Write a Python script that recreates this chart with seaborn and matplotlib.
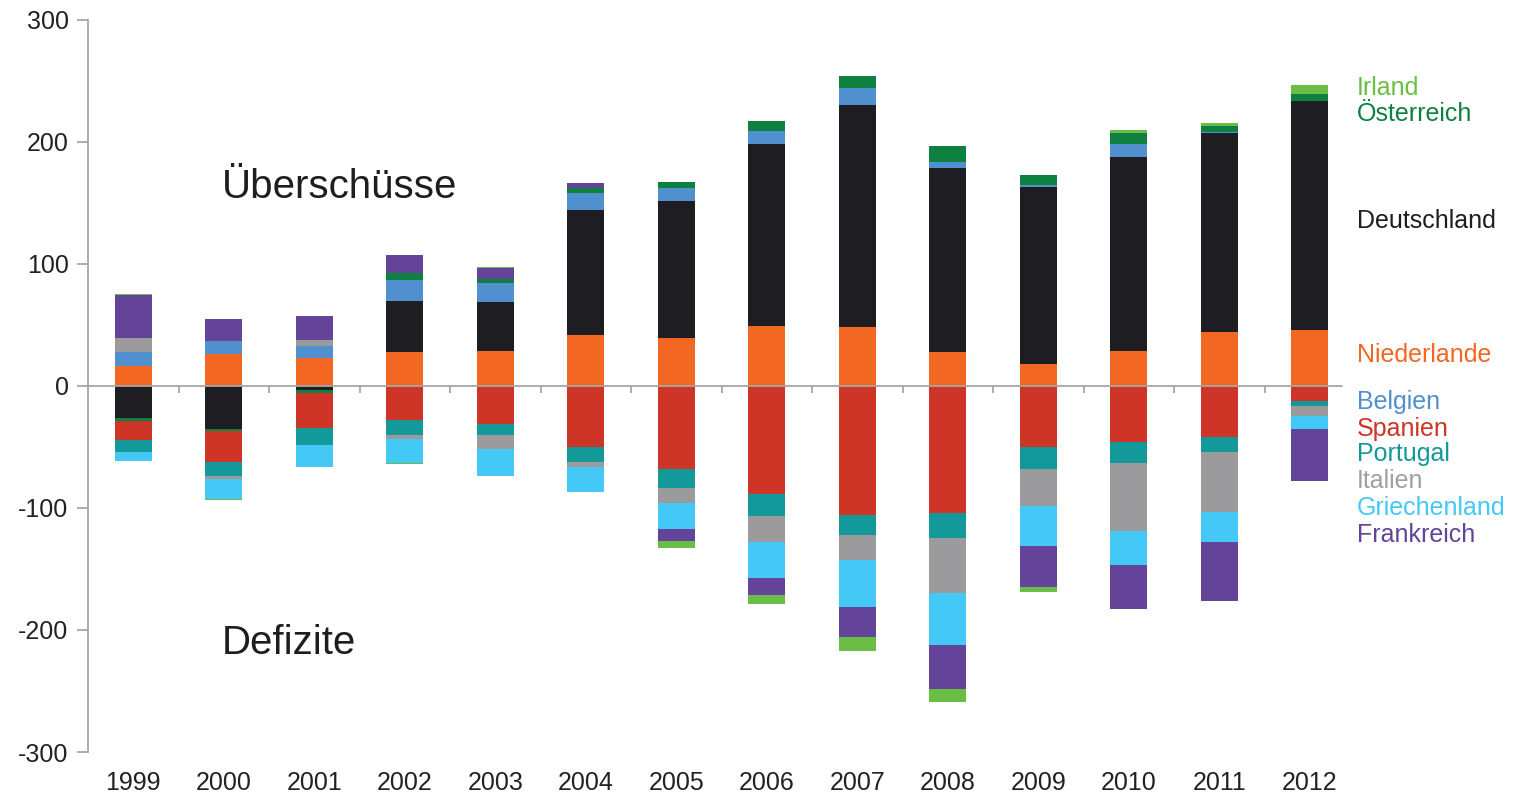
import numpy as np
import pandas as pd
import seaborn as sns
import matplotlib.pyplot as plt

# Leistungsbilanzsalden im Euroraum, Mrd. Euro
years = [str(y) for y in range(1999, 2013)]

niederlande = [16, 26.5, 23, 28, 29, 42, 39, 49, 48, 28, 18, 29, 44, 46]
deutschland = [-26, -35.5, -3.5, 42, 40, 102.5, 112.5, 149.5, 182, 150.5, 145, 159, 163, 187.5]
belgien = [12, 10.5, 10, 16.5, 15.5, 13.5, 10.5, 10.5, 14, 5, 2, 10, 1.5, 0]
oesterreich = [-2.5, -1.5, -2, 6, 3.5, 4.5, 5, 8, 10, 13, 8, 9.5, 4.5, 6]
spanien = [-16, -25, -29, -27.5, -31.5, -50, -68, -88.5, -105.5, -104, -50, -45.5, -42, -12.5]
portugal = [-10, -12, -14, -12.5, -9, -12, -15.5, -18, -17, -20.5, -18, -17.5, -12, -4]
italien = [11.5, -2, 4.5, -3.5, -11, -4.5, -12.5, -21.5, -20, -45.5, -30, -55.5, -49, -8]
griechenland = [-7, -17, -17.5, -20, -22, -20, -21, -29.5, -39, -42.5, -33.5, -28, -24.5, -10.5]
frankreich = [35, 18, 19.5, 15, 8.5, 4, -10, -14, -24.5, -36, -33, -36.5, -49, -43]
irland = [0.5, -0.5, -0.5, -0.5, 1, 0, -5.5, -7.5, -11.5, -10.5, -4, 2.5, 2.5, 7]

countries = ['Niederlande', 'Deutschland', 'Belgien', 'Österreich', 'Spanien',
             'Portugal', 'Italien', 'Griechenland', 'Frankreich', 'Irland']
series = [niederlande, deutschland, belgien, oesterreich, spanien,
          portugal, italien, griechenland, frankreich, irland]
colors = ['#F26722', '#1E1E22', '#5090CE', '#0E8040', '#CE3527',
          '#14999A', '#9B9B9E', '#44C8F5', '#634499', '#6BBE45']

# Beschriftung rechts: Reihenfolge wie im Original, y-Position in Datenkoordinaten
label_names = ['Irland', 'Österreich', 'Deutschland', 'Niederlande', 'Belgien',
               'Spanien', 'Portugal', 'Italien', 'Griechenland', 'Frankreich']
label_y = [244, 223, 135, 25, -13, -35, -56, -78, -100, -122]
label_colors = ['#6BBE45', '#0E8040', '#1E1E22', '#F26722', '#5090CE',
                '#CE3527', '#14999A', '#A0A0A2', '#44C8F5', '#634499']

sns.set_style('white')
plt.rcParams['font.family'] = ['Liberation Sans', 'DejaVu Sans']
plt.rcParams['axes.unicode_minus'] = False

fig = plt.figure(figsize=(15.2, 7.93), dpi=100)
ax = fig.add_axes([0.0579, 0.0517, 0.8336, 0.9231])

pos_base = np.zeros(len(years))
neg_base = np.zeros(len(years))
for name, vals, col in zip(countries, series, colors):
    vals = np.array(vals, dtype=float)
    bottom = np.where(vals >= 0, pos_base, neg_base)
    df = pd.DataFrame({'Jahr': years, 'Wert': vals})
    sns.barplot(data=df, x='Jahr', y='Wert', bottom=bottom, color=col,
                width=0.41, errorbar=None, saturation=1, linewidth=0, ax=ax)
    pos_base += np.clip(vals, 0, None)
    neg_base += np.clip(vals, None, 0)

ax.set_xlim(-0.5, 13.5)
ax.set_ylim(-300, 300)
ax.set_yticks(range(-300, 301, 100))
ax.set_xlabel('')
ax.set_ylabel('')

grey = '#A6A6A6'
for s in ['top', 'right', 'bottom']:
    ax.spines[s].set_visible(False)
ax.spines['left'].set_color(grey)
ax.spines['left'].set_linewidth(1.3)
ax.tick_params(axis='y', left=True, direction='out', length=8, width=1.3,
               color=grey, labelsize=18, labelcolor='#222222', pad=6)
ax.tick_params(axis='x', bottom=True, length=0, labelsize=18,
               labelcolor='#222222', pad=14)

# Nulllinie mit kleinen Strichen zwischen den Jahren
ax.axhline(0, xmax=0.99, color=grey, lw=1.3, zorder=3)
sec = ax.secondary_xaxis(0.5)
sec.set_alignment('bottom')
sec.spines['bottom'].set_visible(False)
sec.set_xticks(np.arange(0.5, len(years) - 1, 1.0))
sec.tick_params(axis='x', direction='out', length=5, width=1.3, color=grey,
                labelbottom=False, labeltop=False)

ax.text(0.98, 163, 'Überschüsse', fontsize=29, color='#1E1E22', va='center', ha='left')
ax.text(0.98, -211, 'Defizite', fontsize=29, color='#1E1E22', va='center', ha='left')

for name, y, col in zip(label_names, label_y, label_colors):
    ax.text(13.52, y, name, fontsize=18, color=col, va='center', ha='left', clip_on=False)

fig.savefig('out.png', dpi=100)
